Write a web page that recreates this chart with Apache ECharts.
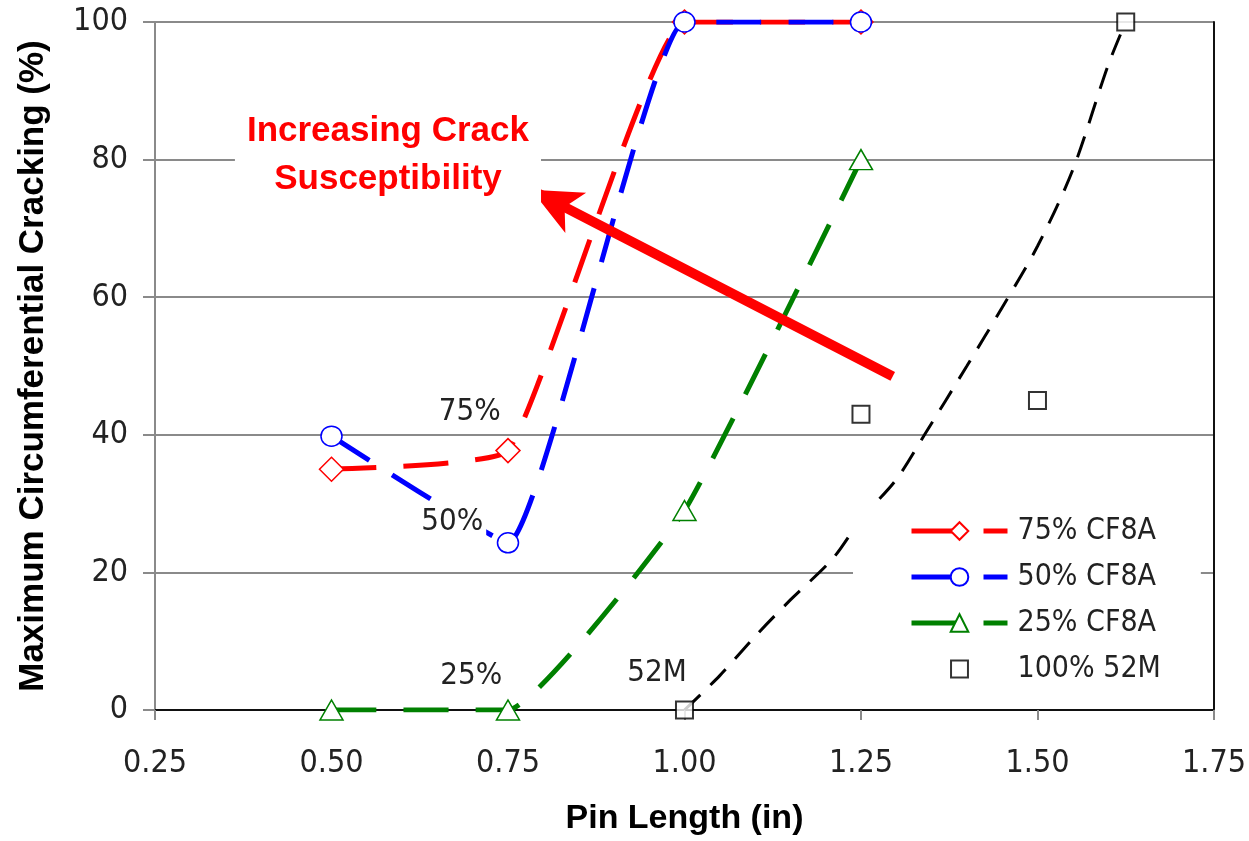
<!DOCTYPE html>
<html>
<head>
<meta charset="utf-8">
<title>Pin Length vs Circumferential Cracking</title>
<script src="https://cdn.jsdelivr.net/npm/echarts@6/dist/echarts.min.js"></script>
<style>
  html, body { margin: 0; padding: 0; background: #fff; }
  #chart-container { width: 1249px; height: 841px; }
</style>
</head>
<body>
<div id="chart-container"></div>
<script>
// values: [pin length (in), cracking (%)]
var cf8a75 = [[0.5, 35], [0.75, 37.7], [1.0, 100], [1.25, 100]];
var cf8a50 = [[0.5, 39.8], [0.75, 24.3], [1.0, 100], [1.25, 100]];
var cf8a25 = [[0.5, 0], [0.75, 0], [1.0, 29], [1.25, 80]];
var m52 = [[1.0, 0], [1.25, 43], [1.5, 45], [1.625, 100]];
// dashed black curve drawn by hand through the 52M region
var m52Curve = [[1.0, 0], [1.05, 5], [1.1, 10.7], [1.15, 16], [1.21, 22], [1.25, 27.7],
  [1.3, 33.5], [1.34, 40], [1.4, 50], [1.45, 58.5], [1.5, 67.4], [1.55, 78.5],
  [1.6, 93.7], [1.625, 100]];

var xTicks = { min: 0.25, max: 1.75, interval: 0.25 };
var yTicks = { min: 0, max: 100, interval: 20 };

var seriesNames = ["75% CF8A", "50% CF8A", "25% CF8A", "100% 52M"];

var tickFont = '"DejaVu Sans Condensed", "DejaVu Sans", sans-serif';
var titleFont = '"Liberation Sans", Arial, sans-serif';

var chartDom = document.getElementById("chart-container");
var myChart = echarts.init(chartDom);

function dashedLine(name, data, color, symbol, size) {
  return {
    name: name,
    type: "line",
    data: data,
    smooth: 0.12,
    symbol: symbol,
    symbolSize: size,
    showAllSymbol: true,
    lineStyle: { color: color, width: 5, type: [45, 27] },
    itemStyle: { color: "#fff", borderColor: color, borderWidth: 1.5 },
    emphasis: { disabled: true },
  };
}

var noteLabel = {
  show: true,
  position: "inside",
  fontFamily: tickFont,
  fontSize: 31,
  color: "#222",
};

var option = {
  animation: false,
  backgroundColor: "#fff",
  grid: { left: 155, right: 35, top: 22, bottom: 130 },
  legend: {
    data: [
      seriesNames[0],
      seriesNames[1],
      seriesNames[2],
      // square drawn a bit smaller than the row height
      { name: seriesNames[3], icon: "path://M-1.5,-1.5L-1.5,-1.5M0,0H10V10H0ZM11.5,11.5L11.5,11.5" },
    ],
    orient: "vertical",
    left: 853,
    top: 504,
    padding: [12, 40, 12, 56],
    backgroundColor: "#fff",
    itemWidth: 96,
    itemHeight: 22,
    itemGap: 16,
    symbolKeepAspect: true,
    lineStyle: { width: 5 },
    textStyle: { fontFamily: tickFont, fontSize: 30, color: "#222", padding: [0, 0, 0, 5] },
    selectedMode: false,
  },
  xAxis: [
    {
      type: "value",
      min: xTicks.min,
      max: xTicks.max,
      interval: xTicks.interval,
      name: "Pin Length (in)",
      nameLocation: "middle",
      nameGap: 92,
      nameTextStyle: { fontFamily: titleFont, fontWeight: "bold", fontSize: 34, color: "#000" },
      axisLine: { lineStyle: { color: "#8a8a8a", width: 2 } },
      axisTick: { show: true, length: 10, lineStyle: { color: "#8a8a8a", width: 2 } },
      axisLabel: {
        margin: 38,
        fontFamily: tickFont,
        fontSize: 32,
        color: "#222",
        formatter: function (v) { return v.toFixed(2); },
      },
      splitLine: { show: false },
    },
    {
      // black frame on top
      type: "value",
      position: "top",
      min: xTicks.min,
      max: xTicks.max,
      axisLine: { show: true, lineStyle: { color: "#111", width: 2 } },
      axisTick: { show: false },
      axisLabel: { show: false },
      splitLine: { show: false },
    },
  ],
  yAxis: [
    {
      type: "value",
      min: yTicks.min,
      max: yTicks.max,
      interval: yTicks.interval,
      name: "Maximum Circumferential Cracking (%)",
      nameLocation: "middle",
      nameGap: 104,
      nameTextStyle: { fontFamily: titleFont, fontWeight: "bold", fontSize: 35, color: "#000" },
      axisLine: { show: true, lineStyle: { color: "#8a8a8a", width: 2 } },
      axisTick: { show: true, length: 12, lineStyle: { color: "#8a8a8a", width: 2 } },
      axisLabel: { margin: 27, fontFamily: tickFont, fontSize: 32, color: "#222" },
      splitLine: { show: true, lineStyle: { color: "#8a8a8a", width: 2 } },
    },
    {
      // black frame on the right
      type: "value",
      position: "right",
      min: yTicks.min,
      max: yTicks.max,
      axisLine: { show: true, lineStyle: { color: "#111", width: 2 } },
      axisTick: { show: false },
      axisLabel: { show: false },
      splitLine: { show: false },
    },
  ],
  series: [
    dashedLine(seriesNames[0], cf8a75, "#ff0000", "diamond", [24, 24]),
    dashedLine(seriesNames[1], cf8a50, "#0000ff", "circle", [21, 20]),
    dashedLine(seriesNames[2], cf8a25, "#008000", "triangle", [23, 20]),
    {
      name: "52M curve",
      type: "line",
      data: m52Curve,
      smooth: 0.3,
      symbol: "none",
      z: 3,
      lineStyle: { color: "#000", width: 3, type: [22, 14] },
      emphasis: { disabled: true },
      markLine: {
        silent: true,
        symbol: ["none", "arrow"],
        symbolSize: [34, 50],
        label: { show: false },
        lineStyle: { color: "#ff0000", width: 10, type: "solid" },
        emphasis: { disabled: true },
        data: [[{ coord: [1.295, 48.5] }, { coord: [0.783, 75.6] }]],
      },
      markPoint: {
        silent: true,
        symbol: "rect",
        symbolSize: 0,
        label: noteLabel,
        data: [
          { coord: [0.696, 43.3], value: "75%" },
          { coord: [0.671, 27.3], value: "50%", label: { backgroundColor: "#fff", padding: [0, 3] } },
          { coord: [0.698, 4.9], value: "25%" },
          { coord: [0.961, 5.4], value: "52M" },
          {
            coord: [0.58, 80.6],
            value: "Increasing Crack\nSusceptibility",
            label: {
              fontFamily: titleFont,
              fontWeight: "bold",
              fontSize: 35,
              lineHeight: 48,
              color: "#ff0000",
              backgroundColor: "#fff",
              padding: [6, 12],
            },
          },
        ],
      },
    },
    {
      name: seriesNames[3],
      type: "scatter",
      data: m52,
      symbol: "rect",
      symbolSize: 17,
      z: 4,
      itemStyle: { color: "#fff", borderColor: "#000", borderWidth: 2 },
      emphasis: { disabled: true },
    },
  ],
};

option && myChart.setOption(option);

window.addEventListener("resize", function () {
  myChart.resize();
});
</script>
</body>
</html>
